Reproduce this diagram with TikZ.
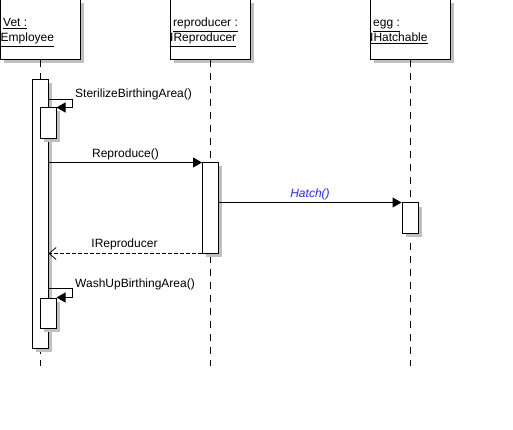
\documentclass[tikz,border=0pt]{standalone}
\usepackage{fontspec}
\setmainfont{Liberation Sans}
\usetikzlibrary{arrows.meta,shadows}
\definecolor{shadowgray}{RGB}{192,192,192}
\definecolor{hatchblue}{RGB}{40,40,255}
\begin{document}
\begin{tikzpicture}[x=1pt,y=-1pt,
  shad/.style={drop shadow={shadow xshift=3.5pt,shadow yshift=-3.5pt,fill=shadowgray,opacity=1}},
  head/.style={draw=black,fill=white,line width=1pt,minimum width=80pt,minimum height=60pt,inner sep=0pt,shad},
  act/.style={draw=black,fill=white,line width=1pt,minimum width=16pt,inner sep=0pt,shad},
  htext/.style={font=\fontsize{12}{14}\selectfont,inner sep=0pt,anchor=base west},
  lbl/.style={font=\fontsize{12}{14}\selectfont,inner sep=0pt,anchor=base},
  lblw/.style={font=\fontsize{12}{14}\selectfont,inner sep=0pt,anchor=base west},
  life/.style={draw=black,line width=1pt,dash pattern=on 7pt off 6pt},
  msg/.style={draw=black,line width=1pt,-{Triangle[length=9pt,width=10pt]}},
  ret/.style={draw=black,line width=0.8pt,dash pattern=on 4pt off 2pt,-{Straight Barb[length=7pt,width=12pt,line width=0.8pt]}}
]
\useasboundingbox (0,0) rectangle (513,430);

% heads
\node[head] (vet) at (40.5,30) {};
\node[head] (rep) at (210,30) {};
\node[head] (egg) at (410,30) {};
\node[htext] (vetA) at (3,27) {\underline{Vet :}};
\node[htext] (vetB) at (0.5,42) {\underline{Employee}};
\node[htext] (repA) at (173,27) {\underline{reproducer :}};
\node[htext] (repB) at (170,42) {\underline{IReproducer}};
\node[htext] (eggA) at (373,27) {\underline{egg :}};
\node[htext] (eggB) at (370,42) {\underline{IHatchable}};

% lifelines
\coordinate (vetend) at (40,366);
\coordinate (repend) at (210,366);
\coordinate (eggend) at (410,366);
\draw[life] (vet.south -| vetend) -- (vetend);
\draw[life] (rep.south) -- (repend);
\draw[life] (egg.south) -- (eggend);

% activations
\node[act,minimum height=268pt] (a1) at (40,214) {};
\node[act,minimum height=31pt] (n1) at (48,123.5) {};
\node[act,minimum height=30pt] (n2) at (48,313) {};
\node[act,minimum height=90pt] (r1) at (210.5,208) {};
\node[act,minimum height=30pt] (e1) at (410,218) {};

% messages
\coordinate (s1) at (48,100);
\coordinate (s1r) at (72,100);
\draw[msg] (s1) -- (s1r) -- (s1r |- n1.north) -- (n1.north east);
\node[lblw] (s1l) at (75,98) {SterilizeBirthingArea()};

\draw[msg] (a1.east |- r1.north west) -- (r1.north west);
\node[lbl] (rl) at (125.5,157.5) {Reproduce()};

\draw[msg] (r1.east |- e1.north west) -- (e1.north west);
\node[lbl,text=hatchblue,font=\fontsize{12}{14}\selectfont\itshape] (hl) at (310,197) {Hatch()};

\draw[ret] (r1.south west) -- (a1.east |- r1.south west);
\node[lbl] (retl) at (124.5,247) {IReproducer};

\coordinate (s2) at (48,288);
\coordinate (s2r) at (72,288);
\draw[msg] (s2) -- (s2r) -- (s2r |- n2.north) -- (n2.north east);
\node[lblw] (s2l) at (75,287) {WashUpBirthingArea()};
\end{tikzpicture}
\end{document}
